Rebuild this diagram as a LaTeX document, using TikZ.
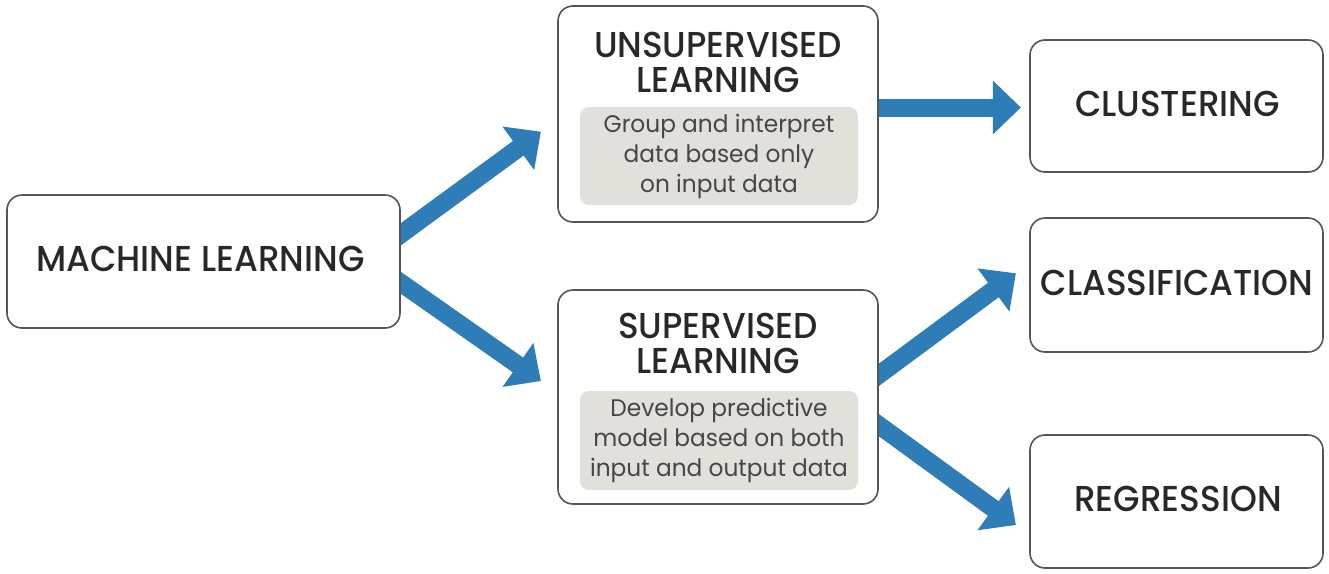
\documentclass[tikz,border=0pt]{standalone}
\usepackage{fontspec}
\setmainfont{Poppins}[FakeStretch=0.97]
\newfontfamily\headfont{Poppins Medium}[FakeStretch=0.95]
\usetikzlibrary{arrows.meta,backgrounds}
\definecolor{flowblue}{RGB}{46,125,182}
\definecolor{notegray}{RGB}{226,224,219}
\definecolor{boxgray}{RGB}{85,85,85}
\definecolor{ink}{RGB}{40,40,40}
\definecolor{bodyink}{RGB}{70,70,70}
\begin{document}
\begin{tikzpicture}[x=1pt,y=-1pt,
  box/.style={draw=boxgray, line width=1.6pt, rounded corners=15pt, fill=white, inner sep=0pt},
  note/.style={fill=notegray, rounded corners=9pt, inner sep=0pt, align=center,
    text=bodyink, font=\fontsize{24}{30}\selectfont},
  head/.style={font=\headfont\fontsize{36}{35}\selectfont, text=ink, align=center, inner sep=0pt},
  flow/.style={draw=flowblue, line width=18pt, -{Triangle[length=28pt,width=52pt]}}
]
\useasboundingbox (0,0) rectangle (1329,573);

% boxes
\node[box, minimum width=393pt, minimum height=133pt] (ml) at (203.5,261.5) {};
\node[box, minimum width=320pt, minimum height=216pt] (unsup) at (718,114) {};
\node[box, minimum width=320pt, minimum height=214pt] (sup) at (718,397) {};
\node[box, minimum width=293pt, minimum height=132pt] (clust) at (1176.5,106) {};
\node[box, minimum width=293pt, minimum height=134pt] (class) at (1176.5,285) {};
\node[box, minimum width=293pt, minimum height=133pt] (regr) at (1176.5,501.5) {};

% titles
\node[head] (mlt) at (200.5,258.5) {MACHINE LEARNING};
\node[head] (unsupt) at (718,62.5) {UNSUPERVISED\\LEARNING};
\node[head] (supt) at (718,343) {SUPERVISED\\LEARNING};
\node[head] (clustt) at (1177.5,103.5) {CLUSTERING};
\node[head] (classt) at (1177,282.5) {CLASSIFICATION};
\node[head] (regrt) at (1178,498.5) {REGRESSION};

% descriptions
\node[note, minimum width=278pt, minimum height=98pt] (unsupn) at (719,156)
  {Group and interpret\\data based only\\on input data};
\node[note, minimum width=278pt, minimum height=99pt] (supn) at (719,440.5)
  {Develop predictive\\model based on both\\input and output data};

% connectors, kept behind the boxes
\begin{scope}[on background layer]
  \draw[flow] ([shift={(-16,-15.5)}]ml.east) -- ([shift={(-16.3,17.7)}]unsup.west);
  \draw[flow] ([shift={(-16.5,9.7)}]ml.east) -- ([shift={(-16.3,-16)}]sup.west);
  \draw[flow] ([shift={(-8,-6.5)}]unsup.east) -- ([shift={(-8.3,1.5)}]clust.west);
  \draw[flow] ([shift={(-16.1,-10.2)}]sup.east) -- ([shift={(-13.3,-11.7)}]class.west);
  \draw[flow] ([shift={(-16.2,16.3)}]sup.east) -- ([shift={(-13.3,23.5)}]regr.west);
\end{scope}
\end{tikzpicture}
\end{document}
